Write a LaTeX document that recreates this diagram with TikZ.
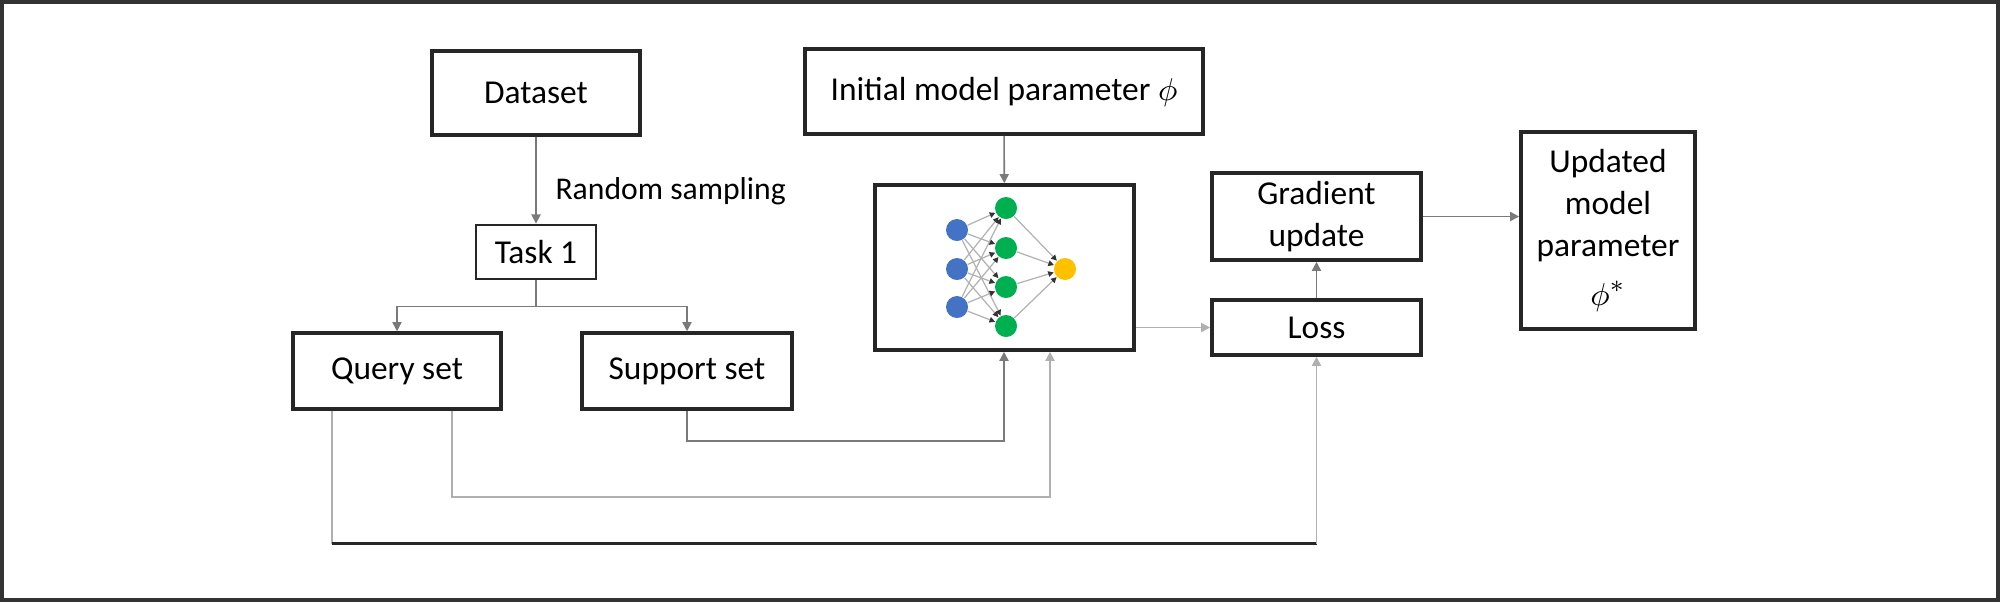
\documentclass[tikz,border=0pt]{standalone}
\usepackage{fontspec}
\setmainfont{Carlito}
\usetikzlibrary{arrows.meta,calc}
\definecolor{nnblue}{HTML}{4472C4}
\definecolor{nngreen}{HTML}{00B050}
\definecolor{nnyellow}{HTML}{FFC000}
\definecolor{linegray}{HTML}{7A7A7A}
\definecolor{lightline}{HTML}{B0B0B0}
\tikzset{
  box/.style={draw=black!85, line width=1pt, inner sep=0pt, align=center,
    font=\fontsize{9.5}{12}\selectfont},
  conn/.style={draw=linegray, line width=0.45pt, -{Triangle[length=2.6pt,width=2.6pt]}},
  lconn/.style={draw=lightline, line width=0.5pt, -{Triangle[length=2.6pt,width=2.6pt]}},
  neuron/.style={circle, minimum size=0.22cm, inner sep=0pt},
  nnedge/.style={draw=gray!60, line width=0.35pt, -{Triangle[length=1.6pt,width=1.6pt,color=black!80]}}
}
\begin{document}
\begin{tikzpicture}[x=0.01cm,y=-0.01cm]
\useasboundingbox (0,0) rectangle (2000,602);
\draw[line width=1pt, draw=black!80] (1.8,1.8) rectangle (1998.2,600.2);

% boxes
\node[box, minimum width=2.08cm, minimum height=0.84cm] (dataset) at (536,93) {Dataset};
\node[box, minimum width=3.98cm, minimum height=0.85cm] (init) at (1004,91.5) {Initial model parameter $\phi$};
\node[box, line width=0.8pt, minimum width=1.20cm, minimum height=0.54cm] (task) at (536,252) {Task 1};
\node[box, minimum width=2.08cm, minimum height=0.76cm] (query) at (397,371) {Query set};
\node[box, minimum width=2.10cm, minimum height=0.76cm] (support) at (687,371) {Support set};
\node[box, minimum width=2.59cm, minimum height=1.65cm] (nn) at (1004.5,267.5) {};
\node[box, minimum width=2.09cm, minimum height=0.87cm] (grad) at (1316.5,216.5) {Gradient\\update};
\node[box, minimum width=2.09cm, minimum height=0.55cm] (loss) at (1316.5,327.5) {Loss};
\node[box, minimum width=1.74cm, minimum height=1.97cm] (upd) at (1608,230.5) {Updated\\model\\parameter\\[2pt]$\phi^{*}$};

% neural network
\foreach \i/\yy in {1/230,2/269,3/307} \node[neuron, fill=nnblue] (b\i) at (957,\yy) {};
\foreach \j/\yy in {1/208,2/248,3/287,4/326} \node[neuron, fill=nngreen] (g\j) at (1006,\yy) {};
\node[neuron, fill=nnyellow] (y1) at (1065,269) {};
\foreach \i in {1,2,3} \foreach \j in {1,2,3,4} \draw[nnedge] (b\i) -- (g\j);
\foreach \j in {1,2,3,4} \draw[nnedge] (g\j) -- (y1);

% connectors
\draw[conn] (dataset) -- node[right, font=\fontsize{9}{11}\selectfont, xshift=2pt, yshift=-3pt] {Random sampling} (task);
\coordinate (split) at ($(task.south)+(0,26)$);
\draw[linegray, line width=0.45pt] (task.south) -- (split);
\draw[conn] (split) -| (query.north);
\draw[conn] (split) -| (support.north);
\draw[conn] (init) -- (nn);
\draw[conn] (support.south) -- ++(0,30) -| ([xshift=-0.005cm]nn.south);
\draw[lconn] ([xshift=0.55cm]query.south) -- ++(0,86) -| ([xshift=0.455cm]nn.south);
\draw[draw=lightline, line width=0.5pt] ([xshift=-0.65cm]query.south) -- ++(0,133) coordinate (qb);
\draw[black!85, line width=0.9pt] (qb) -- (qb -| loss.south) coordinate (lb);
\draw[lconn] (lb) -- (loss.south);
\draw[lconn] (loss.west -| nn.east) -- (loss.west);
\draw[conn] (loss) -- (grad);
\draw[conn] (grad.east) -- (upd.west |- grad.east);
\end{tikzpicture}
\end{document}
